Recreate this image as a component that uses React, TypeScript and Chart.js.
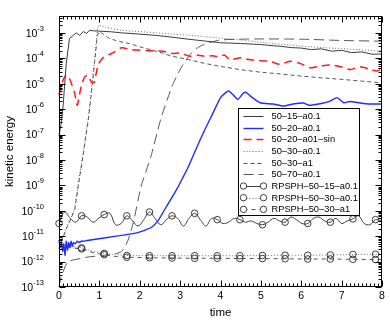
import React, { useEffect, useRef } from 'react';
import { Chart, registerables } from 'chart.js';

Chart.register(...registerables);

// ---------- axis definitions ----------
const xTickValues = [0, 1, 2, 3, 4, 5, 6, 7, 8];
const yDecadeExps = [-13, -12, -11, -10, -9, -8, -7, -6, -5, -4, -3];
const xTitle = 'time';
const yTitle = 'kinetic energy';
const yMin = 1e-13;
const yMax = 4.6e-3;

// ---------- data (time, log10 kinetic energy) ----------
const s1515Time = [0, 0.05, 0.1, 0.18, 0.26, 0.35, 0.43, 0.51, 0.6, 0.68, 0.76, 0.85, 0.97, 1.3, 1.55, 2.0, 2.4, 2.8, 3.2, 3.6, 4.0, 4.5, 5.0, 5.25, 5.5, 5.75, 6.0, 6.25, 6.5, 6.75, 7.0, 7.25, 7.5, 7.75, 8.0];
const s1515LogKe = [-7.05, -6.6, -5.9, -4.2, -3.22, -3.1, -3.0, -3.1, -2.95, -3.02, -2.9, -2.92, -2.93, -2.96, -3.0, -3.05, -3.1, -3.17, -3.25, -3.32, -3.39, -3.42, -3.46, -3.5, -3.53, -3.58, -3.6, -3.66, -3.63, -3.72, -3.69, -3.78, -3.75, -3.84, -3.83];

const s2020Time = [0, 0.03, 0.06, 0.09, 0.12, 0.15, 0.18, 0.21, 0.24, 0.27, 0.3, 0.33, 0.36, 0.4, 0.45, 0.5, 0.55, 0.6, 0.7, 1.2, 1.55, 1.9, 2.1, 2.3, 2.45, 2.6, 2.75, 2.9, 3.05, 3.2, 3.4, 3.6, 3.8, 4.0, 4.1, 4.2, 4.32, 4.43, 4.55, 4.62, 4.75, 4.98, 5.3, 5.56, 5.8, 6.05, 6.2, 6.5, 6.7, 6.89, 7.05, 7.2, 7.46, 7.7, 8.0];
const s2020LogKe = [-11.15, -11.45, -11.25, -11.6, -11.3, -11.75, -11.2, -11.55, -11.25, -11.45, -11.2, -11.4, -11.25, -11.3, -11.2, -11.25, -11.2, -11.2, -11.17, -11.05, -10.97, -10.88, -10.78, -10.64, -10.4, -10.0, -9.6, -9.2, -8.75, -8.28, -7.55, -6.85, -6.2, -5.55, -5.39, -5.29, -5.45, -5.62, -5.4, -5.33, -5.5, -5.75, -5.8, -5.88, -5.8, -5.76, -5.85, -5.78, -5.7, -5.55, -5.75, -5.7, -5.76, -5.8, -5.8];

const s2020SinTime = [0, 0.08, 0.18, 0.26, 0.33, 0.39, 0.45, 0.5, 0.56, 0.64, 0.72, 0.8, 0.87, 0.92, 0.97, 1.05, 1.13, 1.25, 1.38, 1.55, 1.75, 1.96, 2.2, 2.37, 2.57, 2.79, 3.0, 3.24, 3.45, 3.61, 3.81, 3.94, 4.1, 4.23, 4.5, 4.7, 4.98, 5.23, 5.47, 5.72, 5.97, 6.22, 6.47, 6.72, 6.97, 7.22, 7.46, 7.71, 7.88, 8.0];
const s2020SinLogKe = [-5.45, -4.95, -4.67, -4.8, -5.1, -5.39, -5.85, -5.5, -5.05, -4.73, -4.68, -4.93, -4.95, -4.6, -4.27, -4.05, -3.94, -3.85, -3.75, -3.59, -3.65, -3.68, -3.7, -3.72, -3.72, -3.81, -3.8, -3.92, -3.88, -3.92, -3.9, -3.94, -3.88, -4.05, -3.98, -4.05, -4.1, -4.12, -4.24, -4.12, -4.2, -4.37, -4.31, -4.27, -4.33, -4.44, -4.33, -4.44, -4.5, -4.4];

const s3001Time = [0, 0.1, 0.2, 0.3, 0.39, 0.47, 0.6, 0.72, 0.8, 0.88, 0.95, 0.98, 1.1, 1.3, 1.55, 2.0, 2.4, 2.8, 3.2, 3.6, 4.1, 4.5, 5.0, 5.5, 6.0, 6.5, 7.0, 7.5, 8.0];
const s3001LogKe = [-11.45, -11.0, -10.6, -10.25, -9.9, -9.0, -7.7, -6.4, -5.3, -4.1, -2.9, -2.7, -2.75, -2.83, -2.9, -2.95, -3.0, -3.05, -3.09, -3.15, -3.22, -3.28, -3.37, -3.45, -3.52, -3.58, -3.62, -3.67, -3.72];

const s301Time = [0, 0.1, 0.2, 0.3, 0.39, 0.47, 0.6, 0.72, 0.8, 0.88, 0.95, 0.99, 1.05, 1.2, 1.4, 1.6, 1.75, 2.0, 2.4, 2.8, 3.2, 3.6, 4.0, 4.5, 5.0, 5.5, 6.0, 6.5, 7.0, 7.5, 8.0];
const s301LogKe = [-11.5, -11.05, -10.65, -10.3, -9.95, -9.1, -7.8, -6.5, -5.4, -4.2, -3.1, -2.95, -3.0, -3.18, -3.3, -3.38, -3.42, -3.55, -3.72, -3.92, -4.05, -4.2, -4.32, -4.45, -4.55, -4.62, -4.7, -4.77, -4.83, -4.9, -4.97];

const s7001Time = [0, 0.05, 0.1, 0.22, 0.47, 0.72, 1.13, 1.38, 1.55, 1.7, 1.85, 2.03, 2.27, 2.52, 2.8, 3.05, 3.25, 3.42, 3.6, 3.8, 4.0, 4.5, 5.0, 6.0, 7.0, 8.0];
const s7001LogKe = [-13.0, -12.6, -12.4, -12.0, -11.9, -11.82, -11.75, -11.7, -11.6, -11.2, -10.4, -9.06, -7.9, -6.4, -5.1, -4.3, -3.85, -3.6, -3.45, -3.35, -3.28, -3.25, -3.24, -3.25, -3.3, -3.33];

const rp1515Time = [0, 0.14, 0.28, 0.42, 0.56, 0.7, 0.84, 0.98, 1.12, 1.26, 1.4, 1.54, 1.68, 1.82, 1.96, 2.1, 2.24, 2.38, 2.52, 2.66, 2.8, 2.94, 3.08, 3.22, 3.36, 3.5, 3.64, 3.78, 3.92, 4.06, 4.2, 4.34, 4.48, 4.62, 4.76, 4.9, 5.04, 5.18, 5.32, 5.46, 5.6, 5.74, 5.88, 6.02, 6.16, 6.3, 6.44, 6.58, 6.72, 6.86, 7.0, 7.14, 7.28, 7.42, 7.56, 7.7, 7.84, 7.98];
const rp1515LogKe = [-10.5, -10.05, -10.3, -10.45, -10.2, -10.25, -10.45, -10.3, -10.15, -10.1, -10.55, -10.5, -10.2, -10.4, -10.6, -10.35, -10.05, -10.3, -10.55, -10.35, -10.2, -10.3, -10.6, -10.3, -10.1, -10.35, -10.6, -10.3, -10.35, -10.5, -10.45, -10.3, -10.35, -10.45, -10.4, -10.5, -10.55, -10.45, -10.3, -10.4, -10.45, -10.25, -10.35, -10.5, -10.5, -10.3, -10.25, -10.4, -10.45, -10.3, -10.5, -10.4, -10.32, -10.2, -10.5, -10.55, -10.35, -10.4];
const rp1515MarkTimes = [0, 0.56, 1.12, 1.68, 2.24, 2.8, 3.36, 3.92, 4.48, 5.04, 5.6, 6.16, 6.72, 7.28, 7.84];

const rp3001Time = [0, 0.14, 0.28, 0.42, 0.56, 0.84, 1.12, 1.4, 1.68, 2.24, 2.8, 3.36, 3.92, 4.48, 5.04, 5.6, 6.16, 6.72, 7.28, 7.84, 8.0];
const rp3001LogKe = [-11.3, -11.35, -11.4, -11.43, -11.46, -11.6, -11.68, -11.73, -11.76, -11.77, -11.77, -11.77, -11.77, -11.77, -11.76, -11.75, -11.75, -11.74, -11.72, -11.71, -11.7];
const rp301Time = [0, 0.14, 0.28, 0.42, 0.56, 0.84, 1.12, 1.4, 1.68, 2.24, 2.8, 3.36, 3.92, 4.48, 5.04, 5.6, 6.16, 6.72, 7.28, 7.84, 8.0];
const rp301LogKe = [-11.35, -11.4, -11.45, -11.48, -11.5, -11.65, -11.73, -11.8, -11.83, -11.85, -11.86, -11.87, -11.87, -11.88, -11.88, -11.89, -11.9, -11.9, -11.91, -11.92, -11.92];
const rp30MarkTimes = [0.56, 1.12, 1.68, 2.24, 2.8, 3.36, 3.92, 4.48, 5.04, 5.6, 6.16, 6.72, 7.28, 7.84];

const seriesLabels = [
  '50–15–a0.1',
  '50–20–a0.1',
  '50–20–a01–sin',
  '50–30–a0.1',
  '50–30–a1',
  '50–70–a0.1',
  'RPSPH–50–15–a0.1',
  'RPSPH–50–30–a0.1',
  'RPSPH–50–30–a1',
];

const FONT = '"Liberation Sans", Arial, Helvetica, sans-serif';

const toPoints = (t: number[], e: number[]) => t.map((x, i) => ({ x, y: Math.pow(10, e[i]) }));
const markRadii = (t: number[], marks: number[]) =>
  t.map((x) => (marks.some((m) => Math.abs(m - x) < 1e-6) ? 3.3 : 0));

const framePlugin = {
  id: 'frameTicksLegend',
  afterDraw(chart: any) {
    const { ctx, chartArea: a, scales } = chart;
    const xs = scales.x;
    const ys = scales.y;
    ctx.save();
    ctx.fillStyle = '#000';
    ctx.strokeStyle = '#000';
    ctx.lineWidth = 1;

    const L = Math.round(a.left) + 0.5;
    const R = Math.round(a.right) - 0.5;
    const T = Math.round(a.top) + 0.5;
    const B = Math.round(a.bottom) - 0.5;

    // ticks
    ctx.beginPath();
    for (let k = 0; k <= 80; k++) {
      const px = Math.round(xs.getPixelForValue(k / 10)) + 0.5;
      const len = k % 10 === 0 ? 6 : 3;
      ctx.moveTo(px, B); ctx.lineTo(px, B - len);
      ctx.moveTo(px, T); ctx.lineTo(px, T + len);
    }
    for (const e of yDecadeExps) {
      for (let m = 1; m <= 9; m++) {
        const v = m * Math.pow(10, e);
        if (v < yMin * 0.999 || v > yMax) continue;
        const py = Math.round(ys.getPixelForValue(v)) + 0.5;
        const len = m === 1 ? 6 : 3;
        ctx.moveTo(L, py); ctx.lineTo(L + len, py);
        ctx.moveTo(R, py); ctx.lineTo(R - len, py);
      }
    }
    ctx.stroke();
    ctx.strokeRect(L, T, R - L, B - T);

    // x tick labels
    ctx.font = `10.5px ${FONT}`;
    ctx.textAlign = 'center';
    ctx.textBaseline = 'middle';
    for (const v of xTickValues) {
      ctx.fillText(String(v), xs.getPixelForValue(v), a.bottom + 9);
    }
    // y tick labels with superscript exponents
    const rightEdge = a.left - 15;
    for (const e of yDecadeExps) {
      const py = ys.getPixelForValue(Math.pow(10, e));
      const expStr = String(e);
      ctx.font = `7.5px ${FONT}`;
      const ew = ctx.measureText(expStr).width;
      ctx.textAlign = 'right';
      ctx.textBaseline = 'alphabetic';
      ctx.fillText(expStr, rightEdge, py - 2);
      ctx.font = `10.5px ${FONT}`;
      ctx.textBaseline = 'middle';
      ctx.fillText('10', rightEdge - ew, py + 1);
    }
    // axis titles
    ctx.font = `11.5px ${FONT}`;
    ctx.textAlign = 'center';
    ctx.textBaseline = 'middle';
    ctx.fillText(xTitle, (a.left + a.right) / 2, a.bottom + 26);
    ctx.save();
    ctx.translate(10, (a.top + a.bottom) / 2);
    ctx.rotate(-Math.PI / 2);
    ctx.fillText(yTitle, 0, 0);
    ctx.restore();

    // legend box
    const bx0 = Math.round(a.right - 144) + 0.5;
    const bx1 = Math.round(a.right - 23) + 0.5;
    const by0 = Math.round(a.top + 92) + 0.5;
    const rowH = 11.67;
    const n = chart.data.datasets.length;
    const by1 = Math.round(by0 + rowH * n + 1) + 0.5;
    ctx.fillStyle = '#fff';
    ctx.fillRect(bx0, by0, bx1 - bx0, by1 - by0);
    ctx.strokeStyle = '#000';
    ctx.lineWidth = 1;
    ctx.strokeRect(bx0, by0, bx1 - bx0, by1 - by0);
    ctx.font = `9.3px ${FONT}`;
    ctx.textAlign = 'left';
    ctx.textBaseline = 'middle';
    chart.data.datasets.forEach((ds: any, i: number) => {
      const cy = by0 + 7.5 + i * rowH;
      const x0 = bx0 + 5;
      const x1 = bx0 + 25;
      ctx.save();
      ctx.strokeStyle = ds.borderColor;
      ctx.lineWidth = ds.borderWidth;
      ctx.setLineDash(ds.borderDash || []);
      ctx.beginPath();
      ctx.moveTo(x0, Math.round(cy) + 0.5);
      ctx.lineTo(x1, Math.round(cy) + 0.5);
      ctx.stroke();
      ctx.setLineDash([]);
      if (ds.legendMarker) {
        ctx.lineWidth = 1;
        ctx.strokeStyle = ds.pointBorderColor;
        for (const cx of [x0, x1]) {
          ctx.beginPath();
          ctx.arc(cx, cy, 3.2, 0, Math.PI * 2);
          ctx.fillStyle = '#fff';
          ctx.fill();
          ctx.stroke();
        }
      }
      ctx.restore();
      ctx.fillStyle = '#000';
      ctx.fillText(ds.label, bx0 + 33, cy + 0.5);
    });
    ctx.restore();
  },
};

export default function App() {
  const canvasRef = useRef<HTMLCanvasElement | null>(null);

  useEffect(() => {
    document.body.style.margin = '0';
    const canvas = canvasRef.current;
    if (!canvas) return;
    const grayDark = '#3c3c3c';
    const gray = '#555555';
    const grayLight = '#6a6a6a';
    const base = {
      fill: false,
      tension: 0,
      pointRadius: 0,
      pointHoverRadius: 0,
      clip: 6,
    };
    const chart = new Chart(canvas, {
      type: 'line',
      data: {
        datasets: [
          { ...base, label: seriesLabels[0], data: toPoints(s1515Time, s1515LogKe), borderColor: grayDark, borderWidth: 1, borderDash: [] },
          { ...base, label: seriesLabels[1], data: toPoints(s2020Time, s2020LogKe), borderColor: '#1f2dff', borderWidth: 1.4, borderDash: [], tension: 0.2 },
          { ...base, label: seriesLabels[2], data: toPoints(s2020SinTime, s2020SinLogKe), borderColor: '#ff1a1a', borderWidth: 1.5, borderDash: [8, 5], tension: 0.3 },
          { ...base, label: seriesLabels[3], data: toPoints(s3001Time, s3001LogKe), borderColor: grayLight, borderWidth: 1, borderDash: [1, 2] },
          { ...base, label: seriesLabels[4], data: toPoints(s301Time, s301LogKe), borderColor: gray, borderWidth: 1, borderDash: [4, 3] },
          { ...base, label: seriesLabels[5], data: toPoints(s7001Time, s7001LogKe), borderColor: gray, borderWidth: 1, borderDash: [10, 5], tension: 0.2 },
          { ...base, label: seriesLabels[6], data: toPoints(rp1515Time, rp1515LogKe), borderColor: grayDark, borderWidth: 1, borderDash: [], tension: 0.4, pointRadius: markRadii(rp1515Time, rp1515MarkTimes), pointBorderColor: grayDark, pointBackgroundColor: 'rgba(0,0,0,0)', pointBorderWidth: 1, legendMarker: true },
          { ...base, label: seriesLabels[7], data: toPoints(rp3001Time, rp3001LogKe), borderColor: grayLight, borderWidth: 1, borderDash: [1, 2], pointRadius: markRadii(rp3001Time, rp30MarkTimes), pointBorderColor: grayDark, pointBackgroundColor: 'rgba(0,0,0,0)', pointBorderWidth: 1, legendMarker: true },
          { ...base, label: seriesLabels[8], data: toPoints(rp301Time, rp301LogKe), borderColor: gray, borderWidth: 1, borderDash: [4, 4], pointRadius: markRadii(rp301Time, rp30MarkTimes), pointBorderColor: grayDark, pointBackgroundColor: 'rgba(0,0,0,0)', pointBorderWidth: 1, legendMarker: true },
        ] as any,
      },
      options: {
        animation: false,
        responsive: false,
        devicePixelRatio: 1,
        layout: { padding: { left: 59, right: 8, top: 16, bottom: 39 } },
        plugins: { legend: { display: false }, tooltip: { enabled: false } },
        events: [],
        scales: {
          x: { type: 'linear', min: 0, max: 8, display: false },
          y: { type: 'logarithmic', min: yMin, max: yMax, display: false },
        },
      },
      plugins: [framePlugin],
    });
    return () => chart.destroy();
  }, []);

  return (
    <div style={{ width: 390, height: 326, background: '#fff' }}>
      <canvas ref={canvasRef} width={390} height={326} style={{ display: 'block' }} />
    </div>
  );
}
